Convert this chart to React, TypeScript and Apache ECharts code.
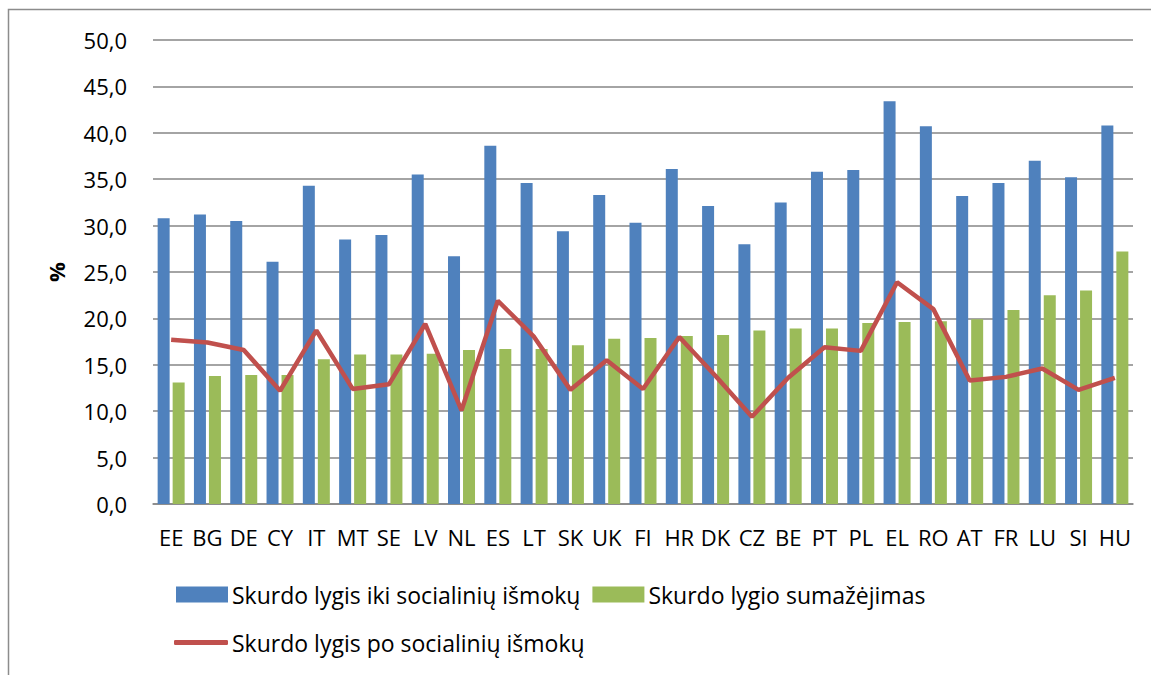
import React, { useEffect, useRef } from "react";
import * as echarts from "echarts";

const categories = ["EE","BG","DE","CY","IT","MT","SE","LV","NL","ES","LT","SK","UK","FI","HR","DK","CZ","BE","PT","PL","EL","RO","AT","FR","LU","SI","HU"];
const beforeBenefits = [30.8,31.2,30.5,26.1,34.3,28.5,29.0,35.5,26.7,38.6,34.6,29.4,33.3,30.3,36.1,32.1,28.0,32.5,35.8,36.0,43.4,40.7,33.2,34.6,37.0,35.2,40.8];
const reduction = [13.1,13.8,13.9,13.9,15.6,16.1,16.1,16.2,16.6,16.7,16.7,17.1,17.8,17.9,18.1,18.2,18.7,18.9,18.9,19.5,19.6,19.7,19.9,20.9,22.5,23.0,27.2];
const afterBenefits = [17.7,17.4,16.6,12.2,18.7,12.4,12.9,19.4,10.1,21.9,18.0,12.3,15.5,12.4,18.0,13.8,9.4,13.6,16.9,16.5,23.9,21.0,13.3,13.7,14.6,12.3,13.6];

const seriesNames = [
  "Skurdo lygis iki socialinių išmokų",
  "Skurdo lygio sumažėjimas",
  "Skurdo lygis po socialinių išmokų",
];

const FONT = "'Open Sans', 'Noto Sans', sans-serif";
const FS = 22;
const LFS = 23;

export default function App() {
  const ref = useRef<HTMLDivElement>(null);
  useEffect(() => {
    if (!ref.current) return;
    const chart = echarts.init(ref.current, undefined, { renderer: "svg" });
    chart.setOption({
      animation: false,
      backgroundColor: "#ffffff",
      textStyle: { fontFamily: FONT },
      graphic: [
        {
          type: "rect",
          shape: { x: 8.5, y: 9.5, width: 1200, height: 700 },
          style: { fill: "none", stroke: "#8c8c8c", lineWidth: 1.5 },
          silent: true,
          z: -1,
        },
      ],
      grid: { left: 153, right: 18, top: 40, bottom: 171 },
      legend: [
        {
          data: [seriesNames[0], seriesNames[1]],
          left: 176,
          top: 583,
          padding: 0,
          orient: "horizontal",
          itemWidth: 52,
          itemHeight: 16,
          itemGap: 12,
          icon: "rect",
          textStyle: { fontFamily: FONT, fontSize: LFS, color: "#000", padding: [0, 0, 0, -1] },
        },
        {
          data: [{ name: seriesNames[2], icon: "roundRect" }],
          left: 174,
          top: 631,
          padding: 0,
          itemWidth: 54,
          itemHeight: 5,
          textStyle: { fontFamily: FONT, fontSize: LFS, color: "#000", padding: [0, 0, 0, -1] },
        },
      ],
      xAxis: {
        type: "category",
        data: categories,
        axisLine: { show: true, lineStyle: { color: "#868686", width: 1.5 } },
        axisTick: { show: false },
        axisLabel: { color: "#000", fontSize: FS, fontFamily: FONT, margin: 22, interval: 0 },
      },
      yAxis: {
        type: "value",
        min: 0,
        max: 50,
        interval: 5,
        name: "%",
        nameLocation: "middle",
        nameRotate: 90,
        nameGap: 86,
        nameTextStyle: { fontSize: 22, fontWeight: "bold", color: "#000", fontFamily: FONT },
        axisLine: { show: false },
        axisTick: { show: false },
        splitLine: { lineStyle: { color: "#868686", width: 1.5 } },
        axisLabel: {
          color: "#000",
          fontSize: FS,
          fontFamily: FONT,
          margin: 26,
          formatter: (v: number) => v.toFixed(1).replace(".", ","),
        },
      },
      series: [
        {
          name: seriesNames[0],
          type: "bar",
          data: beforeBenefits,
          barWidth: 12,
          barGap: "25%",
          itemStyle: { color: "#4F81BD" },
        },
        {
          name: seriesNames[1],
          type: "bar",
          data: reduction,
          barWidth: 12,
          itemStyle: { color: "#9BBB59" },
        },
        {
          name: seriesNames[2],
          type: "line",
          data: afterBenefits,
          showSymbol: false,
          symbol: "none",
          lineStyle: { color: "#C0504D", width: 4.5 },
          itemStyle: { color: "#C0504D" },
          z: 5,
        },
      ],
    });
    return () => chart.dispose();
  }, []);
  return (
    <div
      ref={ref}
      style={{ position: "fixed", left: 0, top: 0, width: 1151, height: 675 }}
    />
  );
}
